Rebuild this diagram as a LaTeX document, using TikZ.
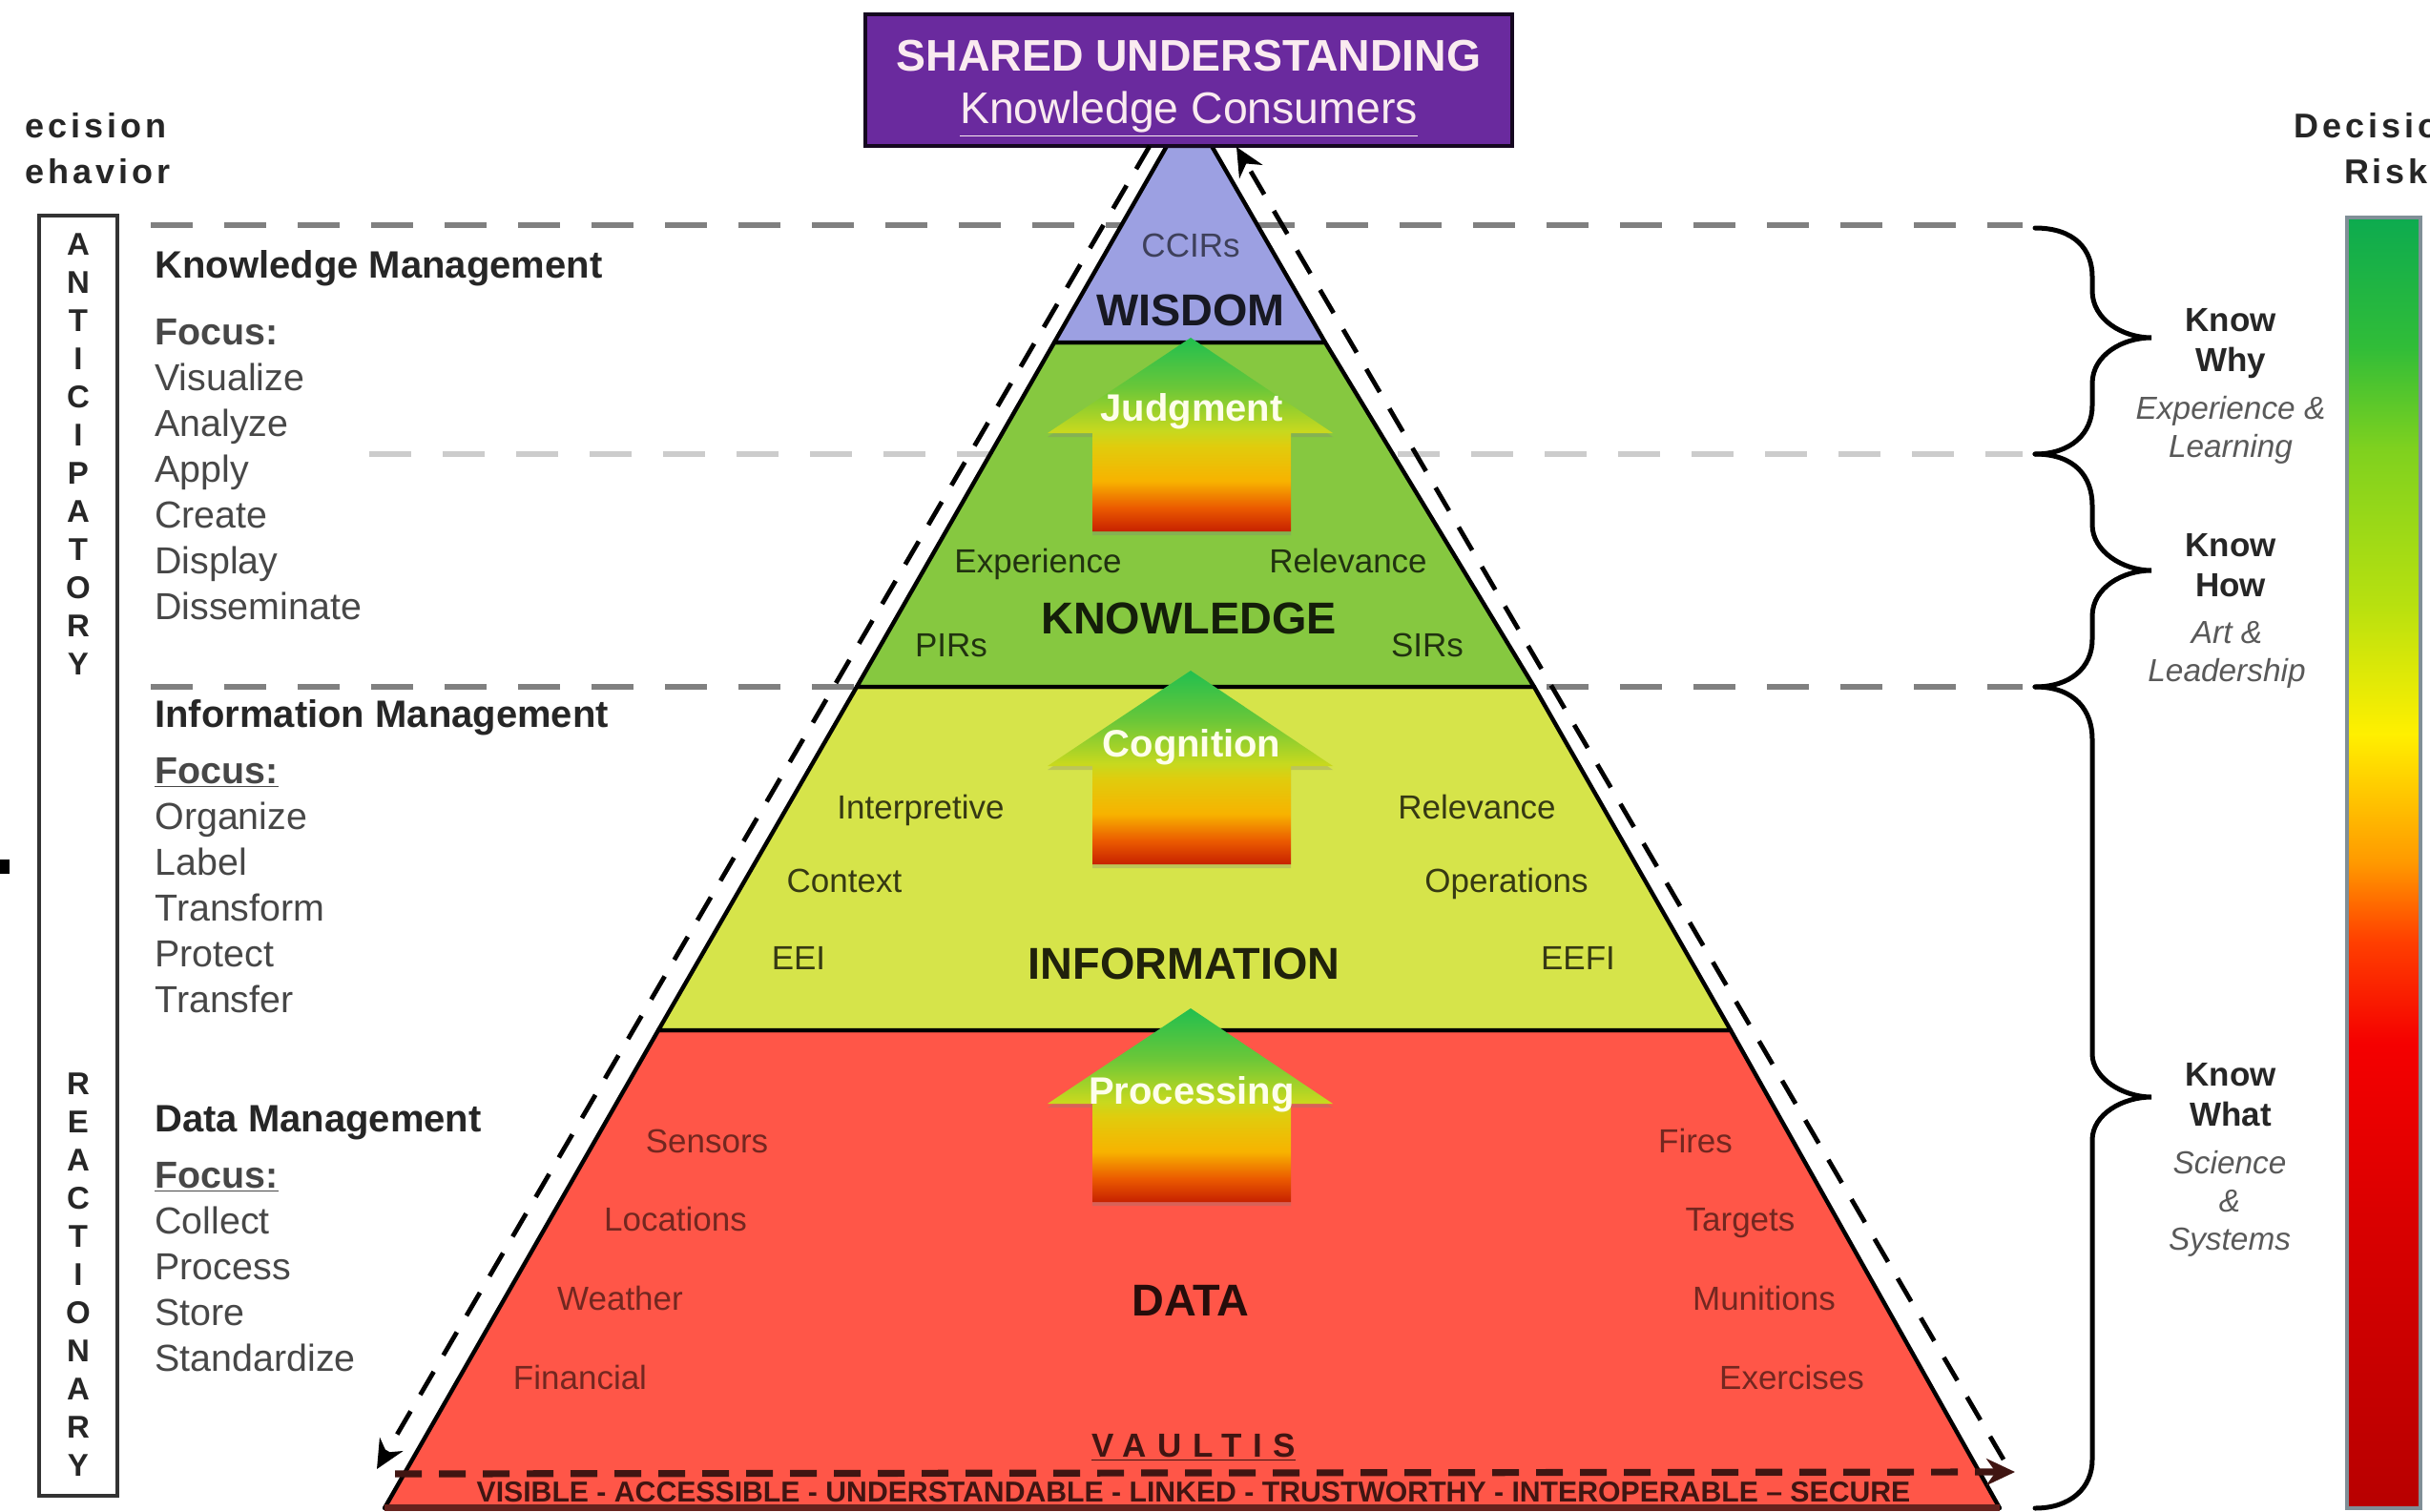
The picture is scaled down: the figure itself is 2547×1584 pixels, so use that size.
\documentclass[tikz,border=0pt]{standalone}
\usepackage{fontspec}
\setmainfont{Liberation Sans}
\newfontfamily\spacedfont[LetterSpace=11]{Liberation Sans}
\newfontfamily\vaultfont[LetterSpace=33]{Liberation Sans}
\usetikzlibrary{arrows.meta,shadows}
\definecolor{wisdomfill}{HTML}{9CA0E2}
\definecolor{knowfill}{HTML}{86C840}
\definecolor{infofill}{HTML}{D6E44A}
\definecolor{datafill}{HTML}{FF5648}
\definecolor{purplefill}{HTML}{6A2A9E}
\pgfdeclareverticalshading{riskbar}{100bp}{rgb(0bp)=(.72,0,0);rgb(25bp)=(.72,0,0);rgb(36bp)=(.85,0,0);rgb(43bp)=(.96,0,0);rgb(47bp)=(1,.25,0);rgb(50bp)=(1,.6,0);rgb(55bp)=(1,.94,0);rgb(60bp)=(.72,.88,.06);rgb(66bp)=(.5,.82,.12);rgb(70bp)=(.19,.74,.22);rgb(75bp)=(.05,.67,.31);rgb(100bp)=(.05,.67,.31)}
\pgfdeclareverticalshading{uparrow}{100bp}{rgb(0bp)=(.78,.13,0);rgb(25bp)=(.78,.13,0);rgb(31bp)=(.92,.35,0);rgb(38bp)=(.97,.7,0);rgb(47bp)=(.88,.8,.05);rgb(51bp)=(.78,.85,.12);rgb(62bp)=(.42,.78,.22);rgb(75bp)=(.13,.75,.31);rgb(100bp)=(.13,.75,.31)}
\tikzset{
  graydash/.style={line width=3.4pt,dash pattern=on 22pt off 16.5pt},
  flowdash/.style={line width=2.4pt,dash pattern=on 14pt off 10pt,-{Stealth[length=15pt,width=14pt]}},
  tier/.style={draw=black,line width=2.2pt,line join=round},
  brace/.style={line width=2.5pt,line cap=round},
  lab/.style={inner sep=0pt,text height=12.6pt,text depth=0pt,font=\fontsize{17.5}{21}\selectfont},
  head/.style={inner sep=0pt,anchor=base west,font=\fontsize{20}{24}\selectfont\bfseries,text=black!85},
  focuslist/.style={inner sep=0pt,anchor=north west,align=left,font=\fontsize{19.7}{24}\selectfont,text=black!72},
  tiername/.style={inner sep=0pt,text height=16.8pt,text depth=0pt,font=\fontsize{23.4}{28}\selectfont\bfseries},
  arrowname/.style={inner sep=0pt,text=yellow!8,font=\fontsize{20}{24}\selectfont\bfseries},
  stack/.style={inner sep=0pt,anchor=north,align=center,font=\fontsize{16.5}{20}\selectfont\bfseries,text=black!85},
  knowhead/.style={inner sep=0pt,anchor=north,align=center,font=\fontsize{17.5}{21}\selectfont\bfseries,text=black!85},
  knowsub/.style={inner sep=0pt,anchor=north,align=center,font=\fontsize{16.7}{20}\selectfont\itshape,text=black!65},
  toplabel/.style={inner sep=0pt,anchor=base,align=center,font=\fontsize{18}{24}\selectfont\bfseries\spacedfont,text=black!85}
}
\begin{document}
\begin{tikzpicture}[x=0.5pt,y=-0.5pt]
\useasboundingbox (0,0) rectangle (2547,1584);
% corners of the tiers
\coordinate (topL) at (1223,153);
\coordinate (topR) at (1270,153);
\coordinate (wisL) at (1105,359);
\coordinate (wisR) at (1389,359);
\coordinate (knoL) at (898,720);
\coordinate (knoR) at (1608,720);
\coordinate (infL) at (690,1080);
\coordinate (infR) at (1814,1080);
\coordinate (datL) at (403,1581);
\coordinate (datR) at (2096,1581);
% grey level lines
\draw[graydash,color=black!50] (158,236) -- (2120,236);
\draw[graydash,color=black!20] (387,476) -- (2120,476);
\draw[graydash,color=black!50] (158,720) -- (2120,720);
% tiers
\draw[tier,fill=datafill] (infL) -- (infR) -- (datR) -- (datL) -- cycle;
\draw[tier,fill=infofill] (knoL) -- (knoR) -- (infR) -- (infL) -- cycle;
\draw[tier,fill=knowfill] (wisL) -- (wisR) -- (knoR) -- (knoL) -- cycle;
\draw[tier,fill=wisdomfill] (topL) -- (topR) -- (wisR) -- (wisL) -- cycle;
\fill[black!60!datafill] (403,1577) rectangle (2096,1584);
% block arrows
\foreach \ytip in {354,703,1057}
  \shade[shading=uparrow,drop shadow={shadow xshift=0pt,shadow yshift=-2pt,opacity=.3}]
    (1248,\ytip) -- (1397,\ytip+100) -- (1353,\ytip+100) -- (1353,\ytip+203)
    -- (1145,\ytip+203) -- (1145,\ytip+100) -- (1098,\ytip+100) -- cycle;
% purple box
\node[draw=black!80!purplefill,line width=2pt,fill=purplefill,minimum width=339pt,minimum height=69pt,align=center,text=purple!8,inner sep=0pt,
  font=\fontsize{23.2}{27.5}\selectfont] (consumers) at (1246,84) {\rule{0pt}{25pt}\textbf{SHARED UNDERSTANDING}\\\underline{Knowledge Consumers}};
% flow arrows
\coordinate (leftEnd) at (395,1540);
\coordinate (leftStart) at (1205,153);
\coordinate (rightEnd) at (1296,154);
\coordinate (rightStart) at (2100,1530);
\coordinate (baseStart) at (414,1545);
\coordinate (baseEnd) at (2112,1543);
\draw[flowdash] (leftStart) -- (leftEnd);
\draw[flowdash] (rightStart) -- (rightEnd);
\draw[flowdash,line width=3.6pt,dash pattern=on 14pt off 9pt,color=black!75!datafill] (baseStart) -- (baseEnd);
% tier names
\node[tiername,text=black!85!wisdomfill] (wisdom) at (1248,325) {WISDOM};
\node[lab,text=black!60!wisdomfill] (ccirs) at (1248,257) {CCIRs};
\node[tiername,text=black!85!knowfill] (knowledge) at (1246,648) {KNOWLEDGE};
\node[tiername,text=black!85!infofill] (information) at (1241,1010) {INFORMATION};
\node[tiername,text=black!85!datafill] (data) at (1248,1363) {DATA};
% arrow names
\node[arrowname] (judgment) at (1249,431) {Judgment};
\node[arrowname] (cognition) at (1249,783) {Cognition};
\node[arrowname] (processing) at (1249,1147) {Processing};
% green tier
\begin{scope}[every node/.append style={lab,text=black!75!knowfill}]
\node (experience) at (1088,588) {Experience};
\node (relevanceK) at (1413,588) {Relevance};
\node (pirs) at (997,676) {PIRs};
\node (sirs) at (1496,676) {SIRs};
\end{scope}
% yellow tier
\begin{scope}[every node/.append style={lab,text=black!75!infofill}]
\node (interpretive) at (965,846) {Interpretive};
\node (relevanceI) at (1548,846) {Relevance};
\node (context) at (885,923) {Context};
\node (operations) at (1579,923) {Operations};
\node (eei) at (837,1004) {EEI};
\node (eefi) at (1654,1004) {EEFI};
\end{scope}
% red tier
\begin{scope}[every node/.append style={lab,text=black!55!datafill}]
\node (sensors) at (741,1196) {Sensors};
\node (fires) at (1777,1196) {Fires};
\node (locations) at (708,1278) {Locations};
\node (targets) at (1824,1278) {Targets};
\node (weather) at (650,1361) {Weather};
\node (munitions) at (1849,1361) {Munitions};
\node (financial) at (608,1444) {Financial};
\node (exercises) at (1878,1444) {Exercises};
\end{scope}
\node[inner sep=0pt,text=black!75!datafill,font=\fontsize{17.5}{21}\selectfont\bfseries\vaultfont] (vaultis) at (1251,1517) {\underline{VAULTIS}};
\node[inner sep=0pt,text=black!75!datafill,font=\fontsize{15.1}{18}\selectfont\bfseries] (visible) at (1251,1564) {VISIBLE - ACCESSIBLE - UNDERSTANDABLE - LINKED - TRUSTWORTHY - INTEROPERABLE -- SECURE};
% left column
\node[toplabel,anchor=base west] (decisionL) at (26,145) {ecision};
\node[toplabel,anchor=base west] (behaviorL) at (26,192) {ehavior};
\node[draw=black!80,line width=2.3pt,minimum width=41pt,minimum height=671pt,inner sep=0pt] (scale) at (82,897) {};
\node[stack] (anticipatory) at (82,244) {A\\N\\T\\I\\C\\I\\P\\A\\T\\O\\R\\Y};
\node[stack] (reactionary) at (82,1124) {R\\E\\A\\C\\T\\I\\O\\N\\A\\R\\Y};
\fill (0,901) rectangle (10,916);
\node[head] (kmhead) at (162,291) {Knowledge Management};
\node[focuslist] (kmlist) at (162,334) {\textbf{Focus:}\\Visualize\\Analyze\\Apply\\Create\\Display\\Disseminate};
\node[head] (imhead) at (162,762) {Information Management};
\node[focuslist] (imlist) at (162,794) {\textbf{\underline{Focus:}}\\Organize\\Label\\Transform\\Protect\\Transfer};
\node[head] (dmhead) at (162,1186) {Data Management};
\node[focuslist] (dmlist) at (162,1218) {\textbf{\underline{Focus:}}\\Collect\\Process\\Store\\Standardize};
% braces
\draw[brace] (2133,239) .. controls (2175,239) and (2193,262) .. (2193,290) -- (2193,305) .. controls (2193,335) and (2225,354) .. (2255,354)
  .. controls (2225,354) and (2193,372) .. (2193,402) -- (2193,425) .. controls (2193,455) and (2170,476) .. (2133,476);
\draw[brace] (2133,476) .. controls (2175,476) and (2193,500) .. (2193,530) -- (2193,550) .. controls (2193,578) and (2225,598) .. (2255,598)
  .. controls (2225,598) and (2193,616) .. (2193,646) -- (2193,670) .. controls (2193,700) and (2170,720) .. (2133,720);
\draw[brace] (2133,720) .. controls (2175,720) and (2193,745) .. (2193,775) -- (2193,1105) .. controls (2193,1130) and (2225,1150) .. (2255,1150)
  .. controls (2225,1150) and (2193,1168) .. (2193,1195) -- (2193,1530) .. controls (2193,1560) and (2170,1581) .. (2133,1581);
% right column
\node[knowhead] (whyhead) at (2338,323) {Know\\Why};
\node[knowsub] (whysub) at (2338,415) {Experience \&\\Learning};
\node[knowhead] (howhead) at (2338,559) {Know\\How};
\node[knowsub] (howsub) at (2334,651) {Art \&\\Leadership};
\node[knowhead] (whathead) at (2338,1114) {Know\\What};
\node[knowsub] (whatsub) at (2337,1206) {Science\\\&\\Systems};
\node[toplabel,anchor=base west] (decisionR) at (2404,145) {Decisio};
\node[toplabel] (risk) at (2501,192) {Risk};
\shade[shading=riskbar,draw=black!35!cyan!25!gray,line width=2pt] (2460,228) rectangle (2537,1581);
\end{tikzpicture}
\end{document}
